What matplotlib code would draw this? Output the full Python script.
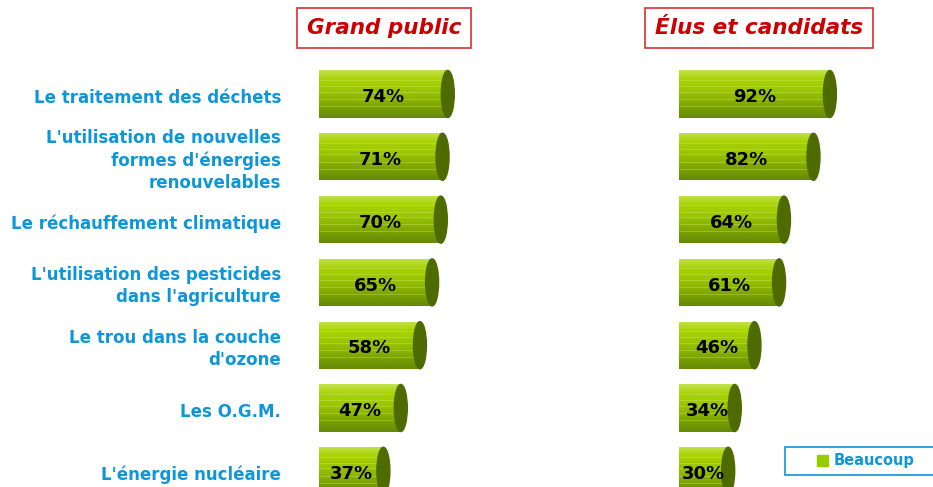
import matplotlib.pyplot as plt
import numpy as np
from matplotlib.colors import LinearSegmentedColormap
from matplotlib.patches import Ellipse, Patch, Rectangle

categories = [
    "Le traitement des déchets",
    "L'utilisation de nouvelles\nformes d'énergies\nrenouvelables",
    "Le réchauffement climatique",
    "L'utilisation des pesticides\ndans l'agriculture",
    "Le trou dans la couche\nd'ozone",
    "Les O.G.M.",
    "L'énergie nucléaire",
]
grand_public = [74, 71, 70, 65, 58, 47, 37]
elus = [92, 82, 64, 61, 46, 34, 30]
panel_titles = ["Grand public", "Élus et candidats"]
legend_label = "Beaucoup"

W, H = 933, 487
BLUE = '#0f96d8'
RED = '#cc0000'
CAP = '#4e6b00'
green_cmap = LinearSegmentedColormap.from_list(
    'cyl', ['#c2e250', '#a8d200', '#9cc800', '#8cb600', '#789f00', '#66890a'])


def px_axes(left, width):
    return fig.add_axes([left / W, 0, width / W, 1])


def draw_cylinders(ax, values, px_per_unit):
    y = np.arange(len(values))
    h = 0.75
    cap_w = 13 / px_per_unit
    bars = ax.barh(y, values, height=h, color='#99c400', edgecolor='none')
    grad = np.linspace(0, 1, 64).reshape(-1, 1)
    for bar, v, yy in zip(bars, values, y):
        im = ax.imshow(grad, cmap=green_cmap, aspect='auto',
                       extent=[0, v, yy + h / 2, yy - h / 2], zorder=2)
        im.set_clip_path(bar)
        for f in (-0.3, -0.17, -0.05, 0.1, 0.25):
            ax.plot([0.5, v], [yy + f * h, yy + f * h], color='#d6ee80',
                    lw=0.6, alpha=0.4, zorder=3)
        ax.add_patch(Ellipse((v, yy), cap_w, h, color=CAP, zorder=4))
        ax.text(v / 2, yy + 0.05, f"{v}%", ha='center', va='center',
                fontsize=13, fontweight='bold', color='black', zorder=5)
    ax.set_xlim(0, 100)
    ax.set_ylim((H - 94) / 62.8, -94 / 62.8)
    ax.axis('off')


fig = plt.figure(figsize=(W / 100, H / 100), dpi=100)

ax1 = px_axes(319, 174)
draw_cylinders(ax1, grand_public, 1.74)
ax2 = px_axes(679, 164)
draw_cylinders(ax2, elus, 1.64)

for i, cat in enumerate(categories):
    ax1.text((281 - 319) / 174, i + 0.06, cat, transform=ax1.get_yaxis_transform(),
             ha='right', va='center', fontsize=12, fontweight='bold',
             color=BLUE, linespacing=1.3)

for title, cx in zip(panel_titles, [384, 759]):
    fig.text(cx / W, 1 - 28 / H, title, ha='center', va='center',
             fontsize=15.5, fontweight='bold', style='italic', color=RED,
             bbox=dict(boxstyle='square,pad=0.45', fc='white', ec='#d83030', lw=1.2))

# legend frame drawn separately so it can run off the right edge like the original
fig.patches.append(Rectangle((785 / W, 1 - 475 / H), 150 / W, 28 / H,
                             transform=fig.transFigure, fc='white', ec=BLUE, lw=1.2))
leg = fig.legend(handles=[Patch(color='#99cc00', label=legend_label)],
                 loc='center', bbox_to_anchor=(866 / W, 1 - 461 / H),
                 frameon=False, handlelength=0.75, handleheight=0.75,
                 handletextpad=0.4, borderpad=0.2, borderaxespad=0,
                 prop={'weight': 'bold', 'size': 10.5})
for t in leg.get_texts():
    t.set_color(BLUE)

fig.savefig('out.png', dpi=100)
